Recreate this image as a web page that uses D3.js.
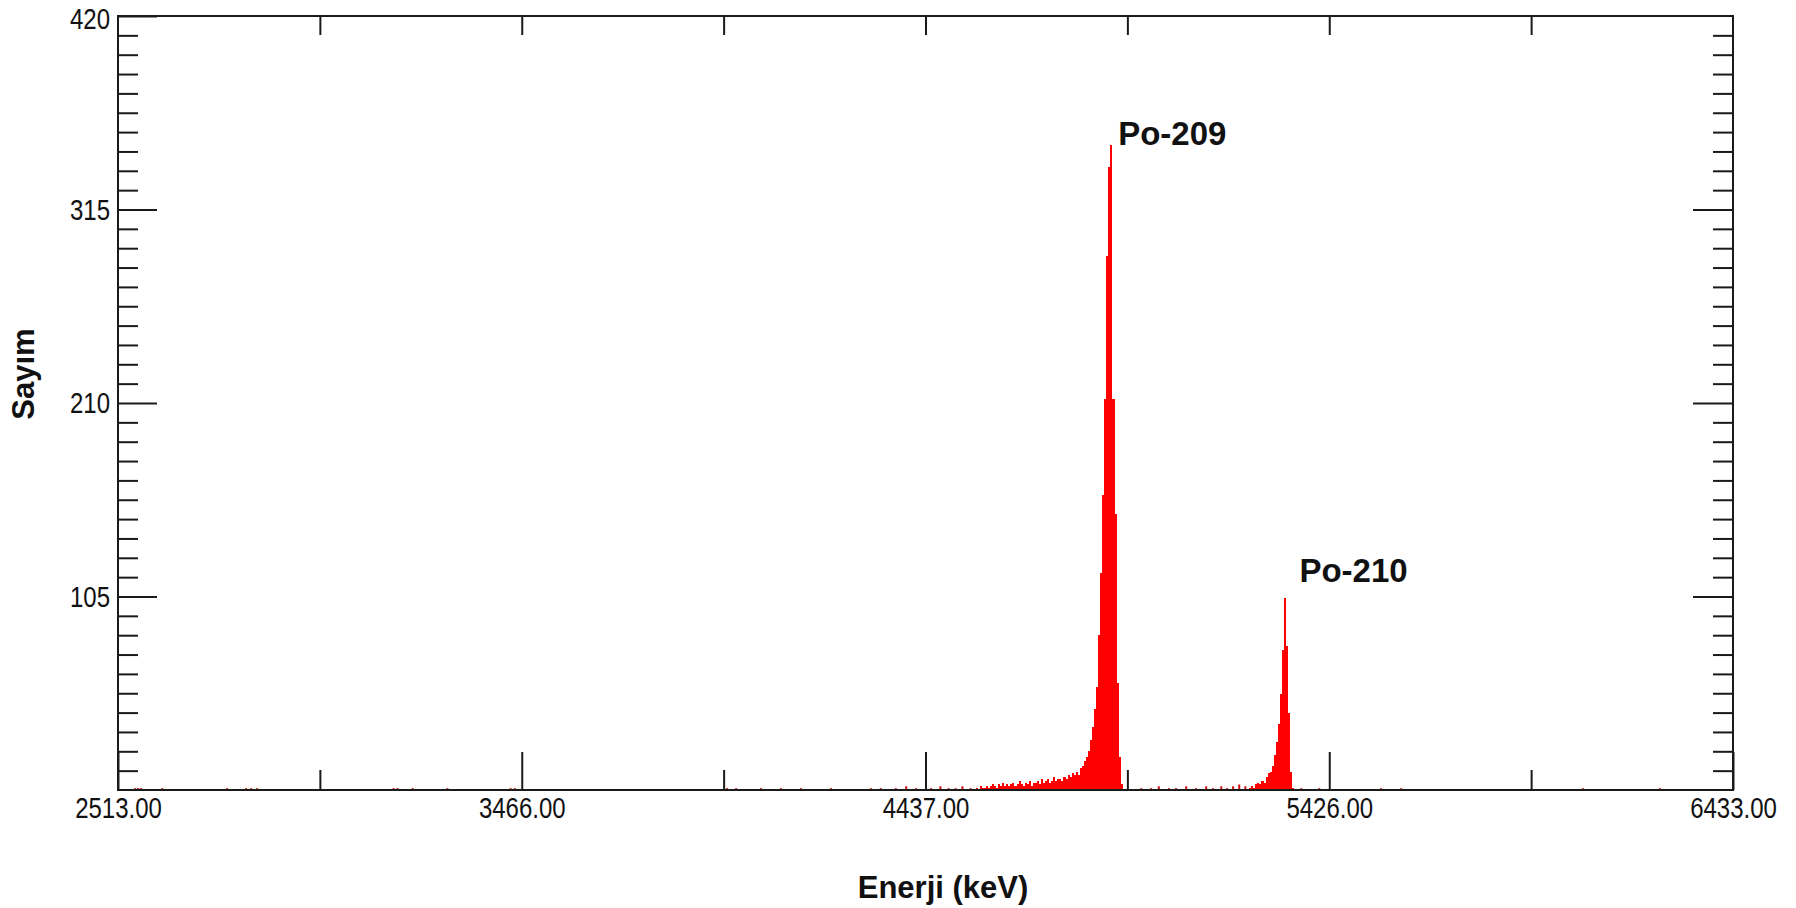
<!DOCTYPE html>
<html>
<head>
<meta charset="utf-8">
<script src="https://cdn.jsdelivr.net/npm/d3@7/dist/d3.min.js"></script>
<style>
  html, body { margin: 0; padding: 0; background: #fff; }
  svg { display: block; }
</style>
</head>
<body>
<svg id="chart" width="1796" height="908"></svg>
<script>
// ---------------- DATA ----------------
const xTickLabels = [2513, 3466, 4437, 5426, 6433];      // keV, labelled ticks
const yTickLabels = [105, 210, 315, 420];                 // counts, labelled ticks
const yMax = 420;
const binWidth = 5;                                       // keV per bin

// Po-209 region (low tail + peak), first bin starts at po209Start keV
const po209Start = 4560;
const po209Counts = [
  1, 0, 2, 1, 1, 2, 1,
  2, 3, 2, 1, 3, 2, 4, 2, 3, 2,
  3, 4, 2, 3, 5, 3, 2, 4, 3, 5, 2, 4,
  4, 5, 3, 6, 4, 5, 6, 4, 5, 7, 5, 6,
  6, 5, 7, 6, 8, 7, 9, 8, 10,
  8, 12, 13, 16, 18, 21, 27, 34, 44, 56, 84, 118, 160, 212, 290, 338, 350,
  212, 150, 58, 18, 3
];

// Po-210 region, first bin starts at po210Start keV
const po210Start = 5230;
const po210Counts = [
  1, 2, 1, 3, 4, 3, 5, 4, 7, 9, 10, 13, 19, 26, 36, 52, 76, 104, 78, 42, 10, 1
];

// isolated low-count bins across the spectrum
const sparseEnergies = [2551, 2558, 2565, 2615, 2768, 2813, 2825, 2839, 3161, 3170, 3206, 3288, 3437, 3447,
  3957, 3979, 4039, 4087, 4135, 4207, 4303, 4327, 4363, 4388, 4412, 4448, 4471, 4491, 4508, 4525, 4545,
  4963, 4987, 5006, 5031, 5048, 5073, 5097, 5122, 5139, 5159, 5173, 5188, 5203, 5218,
  5355, 5399, 5553, 5603, 6056, 6248];
const sparseCounts = [1, 1, 1, 1, 1, 1, 1, 1, 1, 1, 1, 1, 1, 1,
  1, 1, 1, 1, 1, 1, 1, 1, 1, 2, 1, 1, 2, 1, 1, 2, 1,
  1, 1, 2, 1, 1, 2, 1, 2, 1, 2, 1, 2, 3, 2,
  1, 1, 1, 1, 1, 1];

const peakNames = ["Po-209", "Po-210"];
const peakLabelEnergies = [4909, 5353];
const peakLabelCounts = [350, 113];

// ---------------- LAYOUT ----------------
const L = 118, R = 1733, T = 16, B = 790;
const svg = d3.select("#chart");
svg.append("rect").attr("width", 1796).attr("height", 908).attr("fill", "#fff");

const xRange = xTickLabels.map((d, i) => L + (R - L) * i / (xTickLabels.length - 1));
const x = d3.scaleLinear().domain(xTickLabels).range(xRange);
const y = d3.scaleLinear().domain([0, yMax]).range([B, T]);

const xMinor = d3.pairs(xTickLabels).map(([a, b]) => (a + b) / 2);
const yMinor = d3.range(1, 40).map(i => i * 10.5).filter(v => Math.abs(v / 105 - Math.round(v / 105)) > 1e-6);
const xInterior = xTickLabels.slice(1, -1).concat(xMinor);

// ---------------- SPECTRUM ----------------
function segmentPoints(start, counts) {
  const pts = counts.map((c, i) => [start + i * binWidth, c]);
  pts.push([start + counts.length * binWidth, 0]);
  return pts;
}
const area = d3.area()
  .x(d => x(d[0]))
  .y0(y(0))
  .y1(d => y(d[1]))
  .curve(d3.curveStepAfter);

const specG = svg.append("g");
[[po209Start, po209Counts], [po210Start, po210Counts]].forEach(([s, c]) => {
  specG.append("path")
    .datum(segmentPoints(s, c))
    .attr("d", area)
    .attr("fill", "#ff0000")
    .attr("shape-rendering", "crispEdges");
});
specG.selectAll("rect.sp")
  .data(sparseEnergies.map((e, i) => [e, sparseCounts[i]]))
  .join("rect")
  .attr("class", "sp")
  .attr("x", d => x(d[0]))
  .attr("width", d => Math.max(1.2, x(d[0] + binWidth) - x(d[0])))
  .attr("y", d => y(d[1]))
  .attr("height", d => y(0) - y(d[1]))
  .attr("fill", "#d01010");

// ---------------- AXES ----------------
const tickColor = "#1a1a1a";
const tickFont = "'Liberation Sans', Arial, sans-serif";
const narrow = 0.8;

function styleAxis(g) {
  g.select(".domain").remove();
  g.selectAll(".tick line").attr("stroke", tickColor).attr("stroke-width", 2);
  g.selectAll(".tick text")
    .attr("fill", "#111")
    .style("font-family", tickFont)
    .style("font-size", "30px")
    .each(function () {
      const t = d3.select(this);
      const x0 = +t.attr("x") || 0;
      t.attr("x", x0 / narrow).attr("transform", `scale(${narrow},1)`);
    });
}

// bottom major
svg.append("g").attr("transform", `translate(0,${B})`)
  .call(d3.axisBottom(x).tickValues(xTickLabels).tickSize(-38).tickPadding(7)
    .tickFormat(d3.format(".2f")))
  .call(styleAxis);
// bottom minor
svg.append("g").attr("transform", `translate(0,${B})`)
  .call(d3.axisBottom(x).tickValues(xMinor).tickSize(-20).tickFormat(""))
  .call(styleAxis);
// top ticks
svg.append("g").attr("transform", `translate(0,${T})`)
  .call(d3.axisTop(x).tickValues(xInterior).tickSize(-19).tickFormat(""))
  .call(styleAxis);
// left major
svg.append("g").attr("transform", `translate(${L},0)`)
  .call(d3.axisLeft(y).tickValues(yTickLabels).tickSize(-39).tickPadding(8))
  .call(styleAxis)
  .call(g => g.selectAll(".tick text").filter(d => d === yMax).attr("dy", "0.4em"));
// left minor
svg.append("g").attr("transform", `translate(${L},0)`)
  .call(d3.axisLeft(y).tickValues(yMinor).tickSize(-20).tickFormat(""))
  .call(styleAxis);
// right major + minor
svg.append("g").attr("transform", `translate(${R},0)`)
  .call(d3.axisRight(y).tickValues(yTickLabels.filter(v => v < yMax)).tickSize(-40).tickFormat(""))
  .call(styleAxis);
svg.append("g").attr("transform", `translate(${R},0)`)
  .call(d3.axisRight(y).tickValues(yMinor).tickSize(-20).tickFormat(""))
  .call(styleAxis);

// frame
svg.append("rect")
  .attr("x", L).attr("y", T).attr("width", R - L).attr("height", B - T)
  .attr("fill", "none").attr("stroke", tickColor).attr("stroke-width", 2);

// ---------------- TEXT ----------------
const boldFont = "'Liberation Sans', Arial, sans-serif";
svg.append("text")
  .attr("x", 943).attr("y", 898)
  .attr("text-anchor", "middle")
  .style("font-family", boldFont).style("font-weight", "bold").style("font-size", "31px")
  .attr("fill", "#111")
  .text("Enerji (keV)");

svg.append("text")
  .attr("transform", "translate(34,374) rotate(-90)")
  .attr("text-anchor", "middle")
  .style("font-family", boldFont).style("font-weight", "bold").style("font-size", "31px")
  .attr("fill", "#111")
  .text("Sayım");

svg.selectAll("text.peak")
  .data(peakNames)
  .join("text")
  .attr("class", "peak")
  .attr("x", (d, i) => x(peakLabelEnergies[i]))
  .attr("y", (d, i) => y(peakLabelCounts[i]))
  .style("font-family", boldFont).style("font-weight", "bold").style("font-size", "33px")
  .attr("fill", "#111")
  .text(d => d);
</script>
</body>
</html>
